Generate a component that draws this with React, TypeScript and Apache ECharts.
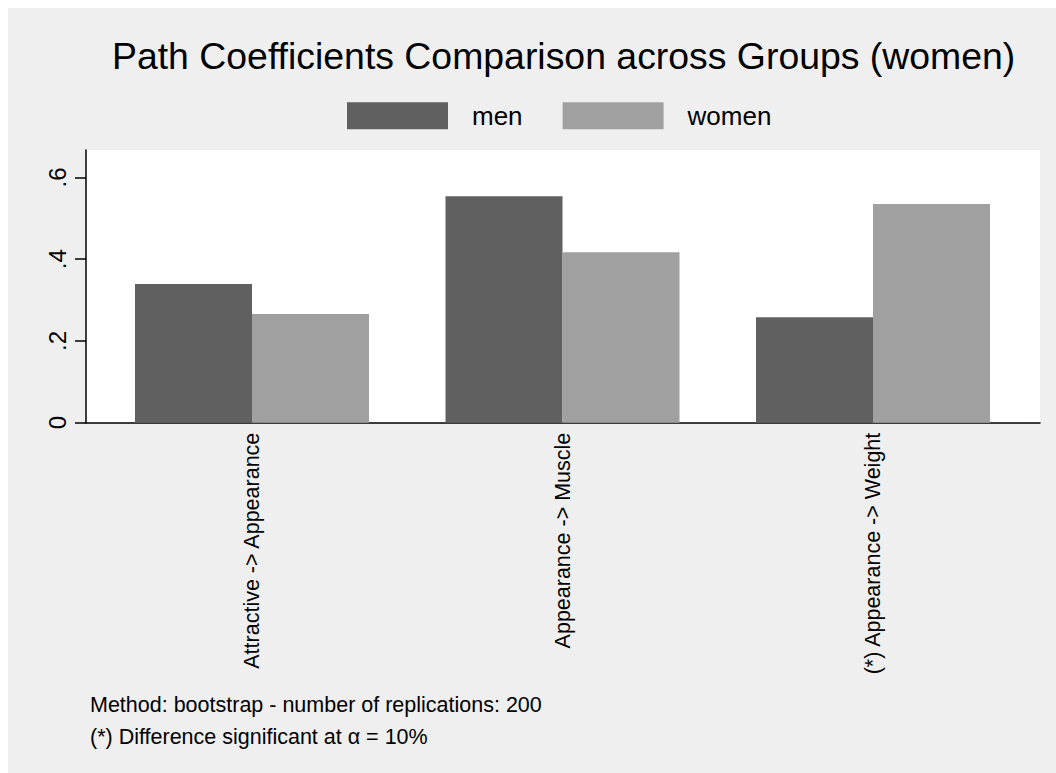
import React, { useEffect, useRef } from "react";
import * as echarts from "echarts";

// Path coefficients by group
const categories = [
  "Attractive -> Appearance",
  "Appearance -> Muscle",
  "(*) Appearance -> Weight",
];
const menValues = [0.339, 0.554, 0.258];
const womenValues = [0.266, 0.417, 0.535];
const yTicks = [0, 0.2, 0.4, 0.6];
const yTickLabels = ["0", ".2", ".4", ".6"];
const titleText = "Path Coefficients Comparison across Groups (women)";
const noteLines = [
  "Method: bootstrap - number of replications: 200",
  "(*) Difference significant at \u03b1 = 10%",
];

const FONT = "'Liberation Sans', Arial, Helvetica, sans-serif";
const Y_MAX = 0.667;

export default function App() {
  const ref = useRef<HTMLDivElement>(null);

  useEffect(() => {
    if (!ref.current) return;
    const chart = echarts.init(ref.current, undefined, { renderer: "svg" });

    const plotTop = 142;
    const plotHeight = 272.7;

    chart.setOption({
      animation: false,
      backgroundColor: "#efefef",
      textStyle: { fontFamily: FONT },
      title: {
        text: titleText,
        left: 104,
        top: 29.5,
        padding: 0,
        textStyle: {
          fontFamily: FONT,
          fontSize: 37.4,
          fontWeight: "normal",
          color: "#000",
          lineHeight: 37.4,
        },
      },
      legend: {
        left: 339,
        top: 94.3,
        padding: 0,
        itemWidth: 101,
        itemHeight: 27,
        itemGap: 40,
        icon: "rect",
        selectedMode: false,
        textStyle: {
          fontFamily: FONT,
          fontSize: 26,
          color: "#000",
          lineHeight: 27,
          padding: [0, 0, 0, 19],
        },
        data: ["men", "women"],
      },
      grid: [
        {
          // white plot region carrying the visible axes
          left: 78,
          top: plotTop,
          width: 954,
          height: plotHeight,
          show: true,
          backgroundColor: "#ffffff",
          borderWidth: 0,
        },
        {
          // bar region
          left: 88.75,
          top: plotTop,
          width: 931.5,
          height: plotHeight,
        },
      ],
      xAxis: [
        {
          gridIndex: 0,
          type: "value",
          min: 0,
          max: 1,
          axisLine: { show: true, onZero: false, lineStyle: { color: "#000", width: 1.5 } },
          axisTick: { show: false },
          axisLabel: { show: false },
          splitLine: { show: false },
        },
        {
          gridIndex: 1,
          type: "category",
          data: categories,
          axisLine: { show: false },
          axisTick: { show: false },
          axisLabel: {
            rotate: 90,
            margin: 10,
            fontFamily: FONT,
            fontSize: 21.5,
            color: "#000",
          },
        },
      ],
      yAxis: [
        {
          gridIndex: 0,
          type: "value",
          min: 0,
          max: Y_MAX,
          axisLine: { show: true, lineStyle: { color: "#000", width: 1.5 } },
          axisTick: {
            show: true,
            length: 11,
            lineStyle: { color: "#000", width: 1.5 },
            customValues: yTicks,
          },
          axisLabel: {
            rotate: 90,
            margin: 17,
            fontFamily: FONT,
            fontSize: 24,
            color: "#000",
            customValues: yTicks,
            formatter: (v: number) => {
              const i = yTicks.findIndex((t) => Math.abs(t - v) < 1e-9);
              return i >= 0 ? yTickLabels[i] : "";
            },
          },
          splitLine: { show: false },
        },
        {
          gridIndex: 1,
          type: "value",
          min: 0,
          max: Y_MAX,
          show: false,
        },
      ],
      series: [
        {
          name: "men",
          type: "bar",
          xAxisIndex: 1,
          yAxisIndex: 1,
          data: menValues,
          barWidth: 117,
          barGap: "0%",
          itemStyle: { color: "#606060" },
        },
        {
          name: "women",
          type: "bar",
          xAxisIndex: 1,
          yAxisIndex: 1,
          data: womenValues,
          barWidth: 117,
          barGap: "0%",
          itemStyle: { color: "#a0a0a0" },
        },
      ],
      graphic: noteLines.map((line, i) => ({
        type: "text",
        left: 82,
        top: 686 + i * 31.6,
        style: {
          text: line,
          fontFamily: FONT,
          fontSize: 21.5,
          fill: "#000",
        },
      })),
    });

    return () => chart.dispose();
  }, []);

  return (
    <div
      ref={ref}
      style={{ position: "fixed", left: 8, top: 8, width: 1048, height: 765 }}
    />
  );
}
